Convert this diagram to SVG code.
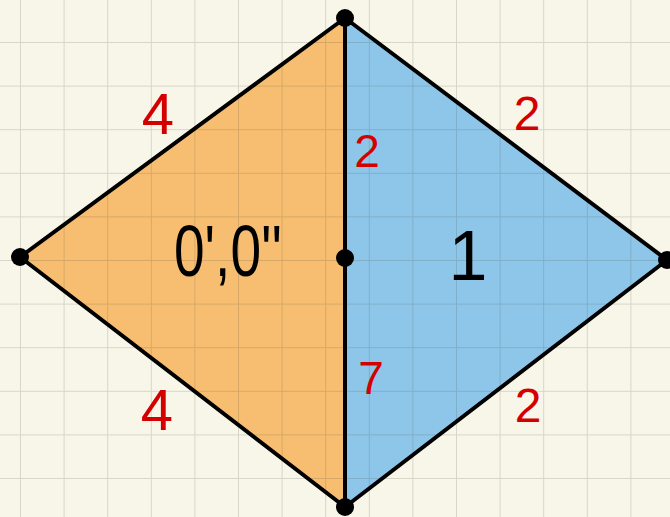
<svg xmlns="http://www.w3.org/2000/svg" width="670" height="517" viewBox="0 0 670 517">
<defs>
<pattern id="grid" x="20" y="-1.6" width="43.6" height="43.6" patternUnits="userSpaceOnUse">
<path d="M0 0H43.6M0 0V43.6" fill="none" stroke="rgba(60,60,40,0.17)" stroke-width="2"/>
</pattern>
</defs>
<style>
.edge{stroke:#000;stroke-width:4;stroke-linejoin:round;stroke-linecap:round;fill:none}
.dot{fill:#000}
.lbl{font-family:"Liberation Sans",sans-serif;fill:#d40000;text-anchor:middle}
.big{font-family:"Liberation Sans",sans-serif;fill:#000;text-anchor:middle}
</style>
<rect width="670" height="517" fill="#f8f5e9"/>
<g id="left-face">
<polygon points="20,257 345,18 345,507" fill="#f7be71"/>
</g>
<g id="right-face">
<polygon points="345,18 667,260 345,507" fill="#8ec6ea"/>
</g>
<rect width="670" height="517" fill="url(#grid)"/>
<g id="connectors">
<polyline class="edge" points="345,18 20,257 345,507"/>
<polyline class="edge" points="345,18 667,260 345,507"/>
<line class="edge" x1="345" y1="18" x2="345" y2="507"/>
</g>
<g id="v-top"><circle class="dot" cx="345" cy="18" r="9"/></g>
<g id="v-left"><circle class="dot" cx="20" cy="257" r="9"/></g>
<g id="v-right"><circle class="dot" cx="667" cy="260" r="9"/></g>
<g id="v-bottom"><circle class="dot" cx="345" cy="507" r="9"/></g>
<g id="v-mid"><circle class="dot" cx="345" cy="258" r="9"/></g>
<g id="labels">
<text class="lbl" x="158" y="134" font-size="58">4</text>
<text class="lbl" x="157" y="430" font-size="58">4</text>
<text class="lbl" x="527" y="130" font-size="48">2</text>
<text class="lbl" x="528" y="422" font-size="48">2</text>
<text class="lbl" x="367" y="167" font-size="46">2</text>
<text class="lbl" x="371" y="394" font-size="46">7</text>
<text class="big" x="228" y="276" font-size="72" textLength="108" lengthAdjust="spacingAndGlyphs">0',0''</text>
<text class="big" x="468" y="280" font-size="70">1</text>
</g>
</svg>
